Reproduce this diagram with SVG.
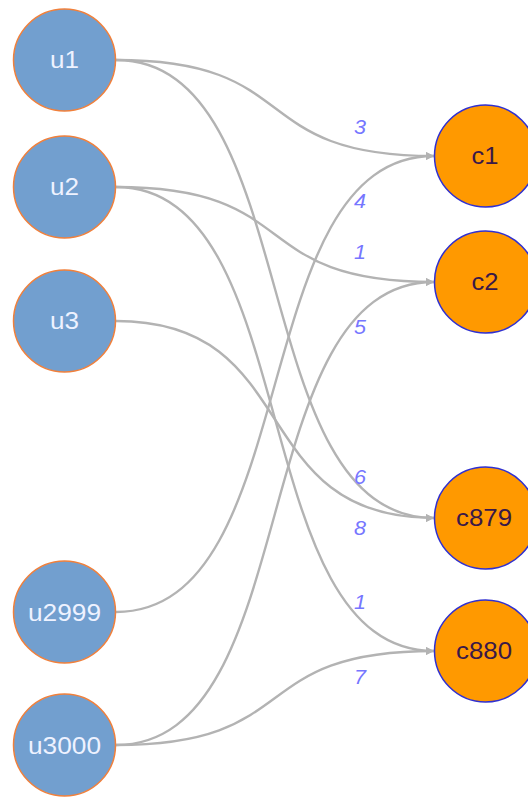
<svg xmlns="http://www.w3.org/2000/svg" width="528" height="798" viewBox="0 0 528 798">
  <style>
    .edge { fill: none; stroke: #b3b3b3; stroke-width: 2.4; marker-end: url(#arrow); }
    .user circle { fill: #729fcf; stroke: #f0803c; stroke-width: 1.5; }
    .user text { fill: #eef2ff; font-family: "Liberation Sans", Arial, sans-serif; font-size: 23.5px; text-anchor: middle; dominant-baseline: central; }
    .course circle { fill: #ff9900; stroke: #3030d0; stroke-width: 1.5; }
    .course text { fill: #3a1848; font-family: "Liberation Sans", Arial, sans-serif; font-size: 23.5px; text-anchor: middle; dominant-baseline: central; }
    .weight { fill: #7676ff; font-family: "Liberation Sans", Arial, sans-serif; font-size: 19.5px; font-style: italic; text-anchor: middle; dominant-baseline: central; }
  </style>
  <defs>
    <marker id="arrow" viewBox="0 0 10 10" refX="10" refY="5" markerWidth="12" markerHeight="8" markerUnits="userSpaceOnUse" orient="auto">
      <path d="M0,0 L10,5 L0,10 Z" fill="#b3b3b3"/>
    </marker>
  </defs>

  <!-- user -> course links: horizontal S-curves ending in an arrow at the course node -->
  <g id="edges">
    <path class="edge" d="M116,60 C306,60 244,156 434,156"/>
    <path class="edge" d="M116,60 C306,60 244,518 434,518"/>
    <path class="edge" d="M116,187 C306,187 244,282 434,282"/>
    <path class="edge" d="M116,187 C306,187 244,651 434,651"/>
    <path class="edge" d="M116,321 C306,321 244,518 434,518"/>
    <path class="edge" d="M116,612 C306,612 244,156 434,156"/>
    <path class="edge" d="M116,745 C306,745 244,282 434,282"/>
    <path class="edge" d="M116,745 C306,745 244,651 434,651"/>
    <text class="weight" x="360" y="127" textLength="12" lengthAdjust="spacingAndGlyphs">3</text>
    <text class="weight" x="360" y="201" textLength="12" lengthAdjust="spacingAndGlyphs">4</text>
    <text class="weight" x="360" y="252" textLength="12" lengthAdjust="spacingAndGlyphs">1</text>
    <text class="weight" x="360" y="327" textLength="12" lengthAdjust="spacingAndGlyphs">5</text>
    <text class="weight" x="360" y="477" textLength="12" lengthAdjust="spacingAndGlyphs">6</text>
    <text class="weight" x="360" y="528" textLength="12" lengthAdjust="spacingAndGlyphs">8</text>
    <text class="weight" x="360" y="602" textLength="12" lengthAdjust="spacingAndGlyphs">1</text>
    <text class="weight" x="360" y="677" textLength="12" lengthAdjust="spacingAndGlyphs">7</text>
  </g>

  <g id="u1" class="user"><circle cx="64.5" cy="60" r="51"/><text x="64.5" y="60" textLength="29" lengthAdjust="spacingAndGlyphs">u1</text></g>
  <g id="u2" class="user"><circle cx="64.5" cy="187" r="51"/><text x="64.5" y="187" textLength="29" lengthAdjust="spacingAndGlyphs">u2</text></g>
  <g id="u3" class="user"><circle cx="64.5" cy="321" r="51"/><text x="64.5" y="321" textLength="29" lengthAdjust="spacingAndGlyphs">u3</text></g>
  <g id="u2999" class="user"><circle cx="64.5" cy="612" r="51"/><text x="64.5" y="612.5" textLength="73" lengthAdjust="spacingAndGlyphs">u2999</text></g>
  <g id="u3000" class="user"><circle cx="64.5" cy="745" r="51"/><text x="64.5" y="745.5" textLength="73" lengthAdjust="spacingAndGlyphs">u3000</text></g>

  <g id="c1" class="course"><circle cx="485.5" cy="156" r="51"/><text x="485" y="156" textLength="27" lengthAdjust="spacingAndGlyphs">c1</text></g>
  <g id="c2" class="course"><circle cx="485.5" cy="282" r="51"/><text x="485" y="282" textLength="27" lengthAdjust="spacingAndGlyphs">c2</text></g>
  <g id="c879" class="course"><circle cx="485.5" cy="518" r="51"/><text x="484" y="518" textLength="56" lengthAdjust="spacingAndGlyphs">c879</text></g>
  <g id="c880" class="course"><circle cx="485.5" cy="651" r="51"/><text x="484" y="651" textLength="56" lengthAdjust="spacingAndGlyphs">c880</text></g>
</svg>
